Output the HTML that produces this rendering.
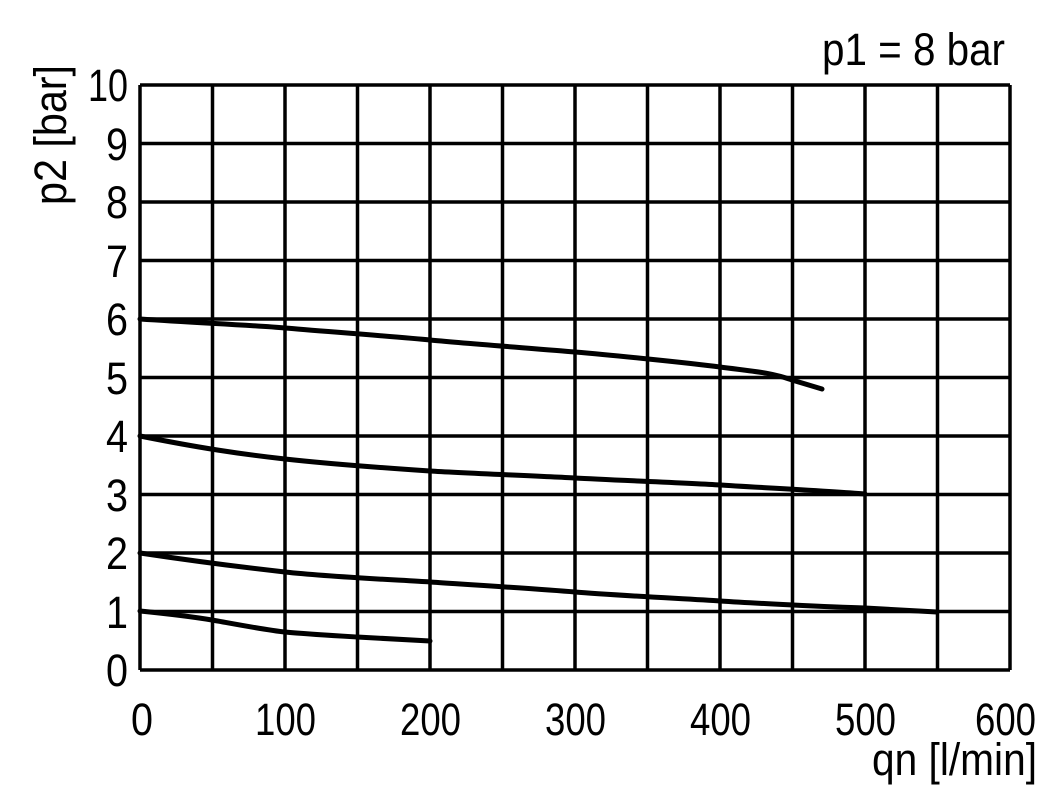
<!DOCTYPE html>
<html><head><meta charset="utf-8"><style>body{margin:0;background:#fff}svg{display:block}</style></head>
<body>
<svg width="1051" height="803" xmlns="http://www.w3.org/2000/svg" font-family="Liberation Sans, Arial, sans-serif" fill="#000">
<g stroke="#000" stroke-width="3.5">
<line x1="140" y1="85" x2="1010" y2="85"/><line x1="140" y1="143.5" x2="1010" y2="143.5"/><line x1="140" y1="202" x2="1010" y2="202"/><line x1="140" y1="260.5" x2="1010" y2="260.5"/><line x1="140" y1="319" x2="1010" y2="319"/><line x1="140" y1="377.5" x2="1010" y2="377.5"/><line x1="140" y1="436" x2="1010" y2="436"/><line x1="140" y1="494.5" x2="1010" y2="494.5"/><line x1="140" y1="553" x2="1010" y2="553"/><line x1="140" y1="611.5" x2="1010" y2="611.5"/><line x1="140" y1="670" x2="1010" y2="670"/>
<line x1="140" y1="85" x2="140" y2="670"/><line x1="212.5" y1="85" x2="212.5" y2="670"/><line x1="285" y1="85" x2="285" y2="670"/><line x1="357.5" y1="85" x2="357.5" y2="670"/><line x1="430" y1="85" x2="430" y2="670"/><line x1="502.5" y1="85" x2="502.5" y2="670"/><line x1="575" y1="85" x2="575" y2="670"/><line x1="647.5" y1="85" x2="647.5" y2="670"/><line x1="720" y1="85" x2="720" y2="670"/><line x1="792.5" y1="85" x2="792.5" y2="670"/><line x1="865" y1="85" x2="865" y2="670"/><line x1="937.5" y1="85" x2="937.5" y2="670"/><line x1="1010" y1="85" x2="1010" y2="670"/>
</g>
<g stroke="#000" stroke-width="5" fill="none" stroke-linecap="round">
<path d="M140,319 C200,323 250,325 285,328 S400,337 430,340 S540,349 575,352 S690,363 720,367 S770,372 792,380 L822,389"/>
<path d="M140,436 C200,448 240,454 285,459 S400,469 430,471 S540,476 575,478 S690,483 720,485 S830,491 865,494"/>
<path d="M140,553 C200,562 240,567 285,572 S400,580 430,582 S540,589 575,592 S690,599 720,601 S830,607 865,608 L937,612"/>
<path d="M140,611 C180,615 200,618 212,620 S265,630 285,632 S340,636 357,637 L430,641"/>
</g>
<g font-size="45">
<text x="88" y="101" textLength="40" lengthAdjust="spacingAndGlyphs">10</text>
<text x="106" y="160" textLength="22" lengthAdjust="spacingAndGlyphs">9</text>
<text x="106" y="218" textLength="22" lengthAdjust="spacingAndGlyphs">8</text>
<text x="106" y="277" textLength="22" lengthAdjust="spacingAndGlyphs">7</text>
<text x="106" y="335" textLength="22" lengthAdjust="spacingAndGlyphs">6</text>
<text x="106" y="394" textLength="22" lengthAdjust="spacingAndGlyphs">5</text>
<text x="106" y="452" textLength="22" lengthAdjust="spacingAndGlyphs">4</text>
<text x="106" y="511" textLength="22" lengthAdjust="spacingAndGlyphs">3</text>
<text x="106" y="569" textLength="22" lengthAdjust="spacingAndGlyphs">2</text>
<text x="106" y="628" textLength="22" lengthAdjust="spacingAndGlyphs">1</text>
<text x="106" y="686" textLength="22" lengthAdjust="spacingAndGlyphs">0</text>
<text x="131" y="735" textLength="22" lengthAdjust="spacingAndGlyphs">0</text>
<text x="255" y="735" textLength="61" lengthAdjust="spacingAndGlyphs">100</text>
<text x="400" y="735" textLength="61" lengthAdjust="spacingAndGlyphs">200</text>
<text x="545" y="735" textLength="61" lengthAdjust="spacingAndGlyphs">300</text>
<text x="690" y="735" textLength="61" lengthAdjust="spacingAndGlyphs">400</text>
<text x="835" y="735" textLength="61" lengthAdjust="spacingAndGlyphs">500</text>
<text x="975" y="735" textLength="61" lengthAdjust="spacingAndGlyphs">600</text>
<text x="872" y="775" textLength="165" lengthAdjust="spacingAndGlyphs">qn [l/min]</text>
<text x="822" y="65" textLength="183" lengthAdjust="spacingAndGlyphs">p1 = 8 bar</text>
<text transform="translate(66,205) rotate(-90)" textLength="140" lengthAdjust="spacingAndGlyphs">p2 [bar]</text>
</g>
</svg>
</body></html>
